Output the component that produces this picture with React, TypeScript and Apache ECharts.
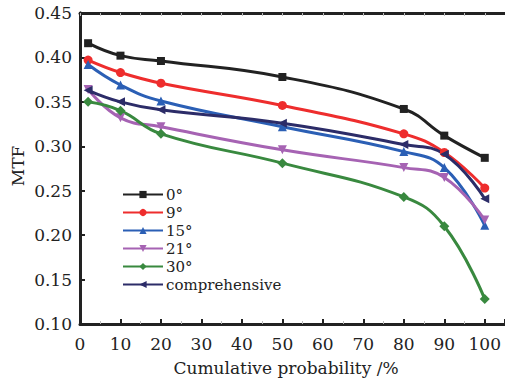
import React, { useEffect, useRef } from "react";
import * as echarts from "echarts";

// Cumulative probability (%) at which MTF was evaluated
const probability = [2, 10, 20, 50, 80, 90, 100];

// MTF values per field angle
const mtf0 = [0.416, 0.402, 0.396, 0.378, 0.342, 0.312, 0.287];
const mtf9 = [0.397, 0.383, 0.371, 0.346, 0.314, 0.293, 0.253];
const mtf15 = [0.392, 0.369, 0.351, 0.322, 0.294, 0.276, 0.211];
const mtf21 = [0.364, 0.332, 0.322, 0.296, 0.276, 0.265, 0.217];
const mtf30 = [0.350, 0.340, 0.314, 0.281, 0.243, 0.210, 0.128];
const mtfComprehensive = [0.363, 0.350, 0.341, 0.326, 0.302, 0.291, 0.241];

const seriesNames = ["0°", "9°", "15°", "21°", "30°", "comprehensive"];
const seriesColors = ["#222222", "#ee2d2d", "#2b5fb5", "#a663b3", "#39893f", "#2c2c68"];
const seriesSymbols = ["rect", "circle", "triangle", "triangle", "diamond", "triangle"];
const symbolRotations = [0, 0, 0, 180, 0, 90];
const symbolSizes = [8, 9, 9, 9, 10, 9];
const seriesValues = [mtf0, mtf9, mtf15, mtf21, mtf30, mtfComprehensive];

const FONT = "DejaVu Serif";

export default function App() {
  const ref = useRef<HTMLDivElement>(null);

  useEffect(() => {
    if (!ref.current) return;
    const chart = echarts.init(ref.current, undefined, { renderer: "svg" });

    const axisLine = { show: true, lineStyle: { color: "#222", width: 3 } };

    chart.setOption({
      animation: false,
      backgroundColor: "#ffffff",
      grid: { left: 80, top: 13, width: 426, height: 311 },
      legend: {
        orient: "vertical",
        left: 117,
        top: 181,
        itemWidth: 40,
        itemHeight: 9,
        itemGap: 1,
        textStyle: {
          fontFamily: FONT,
          fontSize: 15,
          lineHeight: 17,
          color: "#222",
          padding: [0, 0, 0, -2],
        },
        data: seriesNames,
      },
      xAxis: [
        {
          type: "value",
          min: 0,
          max: 105,
          interval: 10,
          axisLine,
          axisTick: { show: true, inside: true, length: 5, lineStyle: { color: "#222", width: 2 } },
          minorTick: { show: true, splitNumber: 2, length: 3, lineStyle: { color: "#bbb", width: 1 } },
          splitLine: { show: false },
          axisLabel: {
            showMaxLabel: false,
            margin: 11,
            fontFamily: FONT,
            fontSize: 17,
            color: "#222",
          },
        },
        {
          type: "value",
          position: "top",
          min: 0,
          max: 105,
          interval: 5,
          axisLine,
          axisTick: { show: true, inside: true, length: 3, lineStyle: { color: "#bbb", width: 1 } },
          splitLine: { show: false },
          axisLabel: { show: false },
        },
      ],
      yAxis: [
        {
          type: "value",
          min: 0.1,
          max: 0.45,
          interval: 0.05,
          axisLine,
          axisTick: { show: true, inside: true, length: 5, lineStyle: { color: "#222", width: 2 } },
          splitLine: { show: false },
          axisLabel: {
            margin: 8,
            fontFamily: FONT,
            fontSize: 17,
            color: "#222",
            formatter: (v: number) => v.toFixed(2),
          },
        },
        {
          type: "value",
          position: "right",
          min: 0.1,
          max: 0.45,
          interval: 0.05,
          axisLine,
          axisTick: { show: false },
          splitLine: { show: false },
          axisLabel: { show: false },
        },
      ],
      series: seriesNames.map((name, i) => ({
        name,
        type: "line",
        smooth: 0.45,
        data: probability.map((p, j) => [p, seriesValues[i][j]]),
        symbol: seriesSymbols[i],
        symbolSize: symbolSizes[i],
        symbolRotate: symbolRotations[i],
        showAllSymbol: true,
        itemStyle: { color: seriesColors[i] },
        lineStyle: { color: seriesColors[i], width: 3 },
      })),
      graphic: [
        {
          type: "text",
          x: 18,
          y: 166,
          rotation: Math.PI / 2,
          style: {
            text: "MTF",
            fontFamily: FONT,
            fontSize: 17,
            fill: "#222",
            align: "center",
            verticalAlign: "middle",
          },
        },
        {
          type: "text",
          x: 286,
          y: 368,
          style: {
            text: "Cumulative probability /%",
            fontFamily: FONT,
            fontSize: 17,
            fill: "#222",
            align: "center",
            verticalAlign: "middle",
          },
        },
      ],
    });

    return () => chart.dispose();
  }, []);

  return (
    <div
      ref={ref}
      style={{ position: "absolute", left: 0, top: 0, width: 505, height: 382 }}
    />
  );
}
